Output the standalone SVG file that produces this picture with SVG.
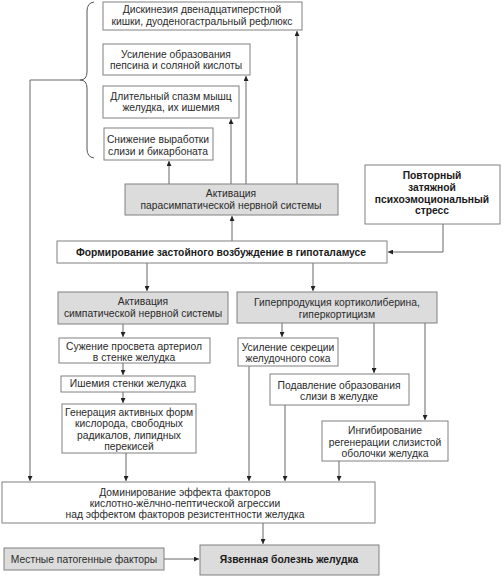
<svg xmlns="http://www.w3.org/2000/svg" width="504" height="576" viewBox="0 0 504 576">
<defs>
<marker id="ah" viewBox="0 0 10 10" refX="10" refY="5" markerWidth="5" markerHeight="5" orient="auto" markerUnits="userSpaceOnUse">
<path d="M0,0 L10,5 L0,10 z" fill="#222"/>
</marker>
<style>
.b{fill:#fff;stroke:#808080;stroke-width:1}
.g{fill:#dcdcdc;stroke:#808080;stroke-width:1}
text{font-family:"Liberation Sans",Arial,sans-serif;font-size:10.3px;fill:#2a2a2a;text-anchor:middle}
.bd{font-weight:bold;fill:#1a1a1a}
.c{fill:none;stroke:#555;stroke-width:1}
.a{fill:none;stroke:#666;stroke-width:1;marker-end:url(#ah)}
</style>
</defs>
<rect width="504" height="576" fill="#fff"/>
<g id="connectors">
<path class="c" d="M94,2 Q87,3 87,11 L87,72 Q87,80 80,80 Q87,80 87,88 L87,149 Q87,157 94,158"/>
<path class="a" d="M80,80 L30,80 L30,481"/>
<path class="a" d="M169,184 L169,161"/>
<path class="a" d="M231,184 L231,119"/>
<path class="a" d="M246,184 L246,76"/>
<path class="a" d="M297,184 L297,31"/>
<path class="a" d="M232,241 L232,216"/>
<path class="a" d="M443,224 L443,252 L388,252"/>
<path class="a" d="M147,263 L147,291"/>
<path class="a" d="M313,263 L313,291"/>
<path class="a" d="M123,324 L123,337"/>
<path class="a" d="M123,363 L123,375"/>
<path class="a" d="M123,392 L123,403"/>
<path class="a" d="M126,453 L126,481"/>
<path class="a" d="M282,323 L282,337"/>
<path class="a" d="M374,323 L374,373"/>
<path class="a" d="M425,323 L425,420"/>
<path class="a" d="M249,366 L249,481"/>
<path class="a" d="M285,405 L285,481"/>
<path class="a" d="M339,461 L339,481"/>
<path class="a" d="M263,523 L263,544"/>
<path class="a" d="M164,559 L199,559"/>
</g>
<g id="n1"><rect class="b" x="103" y="2" width="199" height="28"/><text x="202" y="13">Дискинезия двенадцатиперстной</text><text x="202" y="25">кишки, дуоденогастральный рефлюкс</text></g>
<g id="n2"><rect class="b" x="103" y="44" width="147" height="31"/><text x="176" y="58">Усиление  образования</text><text x="176" y="69">пепсина и соляной кислоты</text></g>
<g id="n3"><rect class="b" x="103" y="86" width="136" height="32"/><text x="171" y="100">Длительный спазм мышц</text><text x="171" y="111">желудка, их ишемия</text></g>
<g id="n4"><rect class="b" x="104" y="128" width="109" height="32"/><text x="158" y="143">Снижение выработки</text><text x="158" y="155">слизи и бикарбоната</text></g>
<g id="n5"><rect class="g" x="125" y="184" width="213" height="31"/><text x="231" y="197">Активация</text><text x="231" y="209">парасимпатической нервной системы</text></g>
<g id="n6"><rect class="b" x="365" y="165" width="135" height="59"/><text class="bd" x="432" y="179">Повторный</text><text class="bd" x="432" y="191">затяжной</text><text class="bd" x="432" y="203">психоэмоциональный</text><text class="bd" x="432" y="214">стресс</text></g>
<g id="n7"><rect class="b" x="57" y="241" width="330" height="22"/><text class="bd" x="221" y="256">Формирование застойного возбуждение в гипоталамусе</text></g>
<g id="n8"><rect class="g" x="58" y="292" width="170" height="32"/><text x="143" y="305">Активация</text><text x="143" y="317">симпатической нервной системы</text></g>
<g id="n9"><rect class="g" x="237" y="292" width="200" height="31"/><text x="337" y="306">Гиперпродукция кортиколиберина,</text><text x="337" y="318">гиперкортицизм</text></g>
<g id="n10"><rect class="b" x="59" y="338" width="151" height="25"/><text x="134" y="350">Сужение просвета артериол</text><text x="134" y="361">в стенке желудка</text></g>
<g id="n11"><rect class="b" x="61" y="376" width="134" height="16"/><text x="128" y="387">Ишемия стенки желудка</text></g>
<g id="n12"><rect class="b" x="62" y="404" width="134" height="49"/><text x="129" y="416">Генерация активных форм</text><text x="129" y="427">кислорода, свободных</text><text x="129" y="439">радикалов, липидных</text><text x="129" y="450">перекисей</text></g>
<g id="n13"><rect class="b" x="238" y="338" width="100" height="28"/><text x="288" y="351">Усиление секреции</text><text x="288" y="362">желудочного сока</text></g>
<g id="n14"><rect class="b" x="270" y="374" width="139" height="31"/><text x="339" y="389">Подавление образования</text><text x="339" y="400">слизи в желудке</text></g>
<g id="n15"><rect class="b" x="322" y="421" width="126" height="40"/><text x="385" y="434">Ингибирование</text><text x="385" y="446">регенерации слизистой</text><text x="385" y="457">оболочки желудка</text></g>
<g id="n16"><rect class="b" x="2" y="482" width="373" height="41"/><text x="185" y="496">Доминирование эффекта факторов</text><text x="185" y="507">кислотно-жёлчно-пептической агрессии</text><text x="185" y="518">над эффектом факторов резистентности желудка</text></g>
<g id="n17"><rect class="g" x="4" y="548" width="160" height="22"/><text x="84" y="563">Местные патогенные факторы</text></g>
<g id="n18"><rect class="g" x="200" y="545" width="179" height="30"/><text class="bd" x="289" y="563">Язвенная болезнь желудка</text></g>
</svg>
